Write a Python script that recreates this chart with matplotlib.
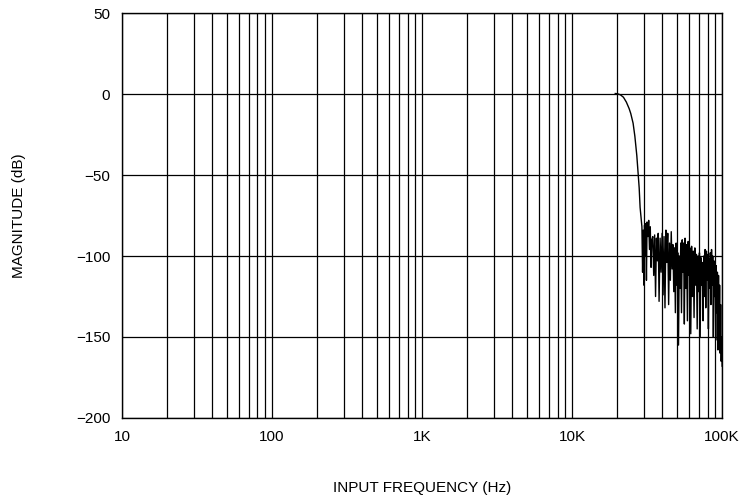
import numpy as np
import matplotlib.pyplot as plt
from matplotlib.ticker import LogLocator, NullFormatter

plt.rcParams['font.family'] = ['Liberation Sans', 'DejaVu Sans']

# passband + transition (kHz, dB)
f_trans = [19.4, 20.0, 21.0, 22.0, 23.0, 24.0, 24.6, 25.5, 26.2, 27.0, 27.6, 28.0, 28.4, 28.8, 29.2]
db_trans = [0.3, 0.2, -0.5, -2, -5, -9, -12, -18, -26, -38, -50, -58, -70, -76, -82]

# stopband ripple (kHz, dB)
f_stop = [29.5, 29.8, 30.1, 30.4, 30.7, 31.0, 31.3, 31.6, 32.0, 32.4, 32.8, 33.2, 33.6, 34.0,
          34.5, 35.0, 35.5, 36.0, 36.5, 37.0, 37.5, 38.0, 38.6, 39.2, 39.8, 40.4, 41.0, 41.6,
          42.2, 42.8, 43.4, 44.0, 44.6, 45.2, 45.8, 46.4, 47.0, 47.6, 48.2, 48.8, 49.4, 50.0,
          50.6, 51.2, 51.8, 52.4, 53.0, 53.6, 54.2, 54.8, 55.4, 56.0, 56.6, 57.3, 58.0, 58.7,
          59.4, 60.2, 61.0, 61.8, 62.6, 63.4, 64.2, 65.0, 65.8, 66.6, 67.4, 68.2, 69.0, 69.8,
          70.6, 71.4, 72.2, 73.0, 73.8, 74.6, 75.4, 76.2, 77.0, 77.8, 78.6, 79.4, 80.2, 81.0,
          81.8, 82.6, 83.4, 84.2, 85.0, 85.8, 86.6, 87.4, 88.2, 89.0, 89.8, 90.6, 91.4, 92.2,
          93.0, 93.8, 94.6, 95.4, 96.2, 97.0, 97.8, 98.6, 99.3, 100.0]
db_stop = [-110, -84, -118, -81, -100, -80, -115, -79, -88, -78, -96, -82, -107, -90,
           -88, -112, -87, -125, -89, -103, -86, -128, -89, -110, -86, -124, -88, -132,
           -84, -104, -86, -130, -92, -115, -85, -108, -93, -122, -95, -135, -92, -118,
           -98, -155, -100, -120, -92, -135, -90, -110, -92, -142, -89, -120, -93, -140,
           -91, -112, -95, -148, -94, -125, -97, -138, -95, -118, -99, -145, -100, -122,
           -98, -150, -101, -118, -104, -140, -100, -125, -96, -132, -97, -115, -99, -145,
           -102, -120, -98, -130, -96, -118, -100, -150, -103, -125, -104, -152, -106, -135,
           -110, -158, -112, -150, -118, -160, -130, -165, -150, -168]

freq = np.array(f_trans + f_stop) * 1000
mag = np.array(db_trans + db_stop)

fig = plt.figure(figsize=(7.46, 5.01), dpi=100)
ax = fig.add_axes([0.1635, 0.1657, 0.8045, 0.8083])

ax.plot(freq, mag, color='black', lw=1.0)

ax.set_xscale('log')
ax.set_xlim(10, 100000)
ax.set_ylim(-200, 50)
ax.set_yticks([-200, -150, -100, -50, 0, 50])
ax.set_xticks([10, 100, 1000, 10000, 100000])
ax.set_xticklabels(['10', '100', '1K', '10K', '100K'])
ax.xaxis.set_minor_locator(LogLocator(base=10, subs=np.arange(2, 10)))
ax.xaxis.set_minor_formatter(NullFormatter())

ax.grid(True, which='major', color='black', lw=0.9)
ax.grid(True, which='minor', axis='x', color='black', lw=0.9)
ax.tick_params(which='both', length=0, labelsize=11, pad=8.5)
for s in ax.spines.values():
    s.set_linewidth(1.0)

ax.set_xlabel('INPUT FREQUENCY (Hz)', fontsize=11, labelpad=27)
ax.set_ylabel('MAGNITUDE (dB)', fontsize=11, labelpad=36)

fig.savefig('out.png', dpi=100)
